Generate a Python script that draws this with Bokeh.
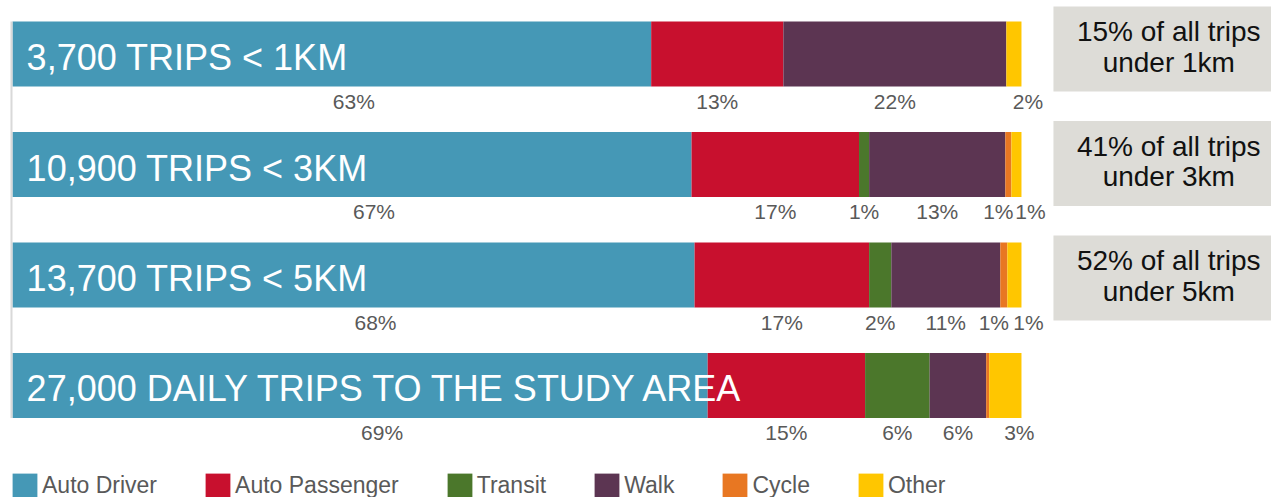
from bokeh.plotting import figure
from bokeh.models import ColumnDataSource, Range1d
from bokeh.embed import file_html
from bokeh.resources import INLINE
from bokeh.core.properties import value

# ---------------- data ----------------
trip_labels = ["3,700 TRIPS < 1KM", "10,900 TRIPS < 3KM", "13,700 TRIPS < 5KM",
               "27,000 DAILY TRIPS TO THE STUDY AREA"]
modes = ["Auto Driver", "Auto Passenger", "Transit", "Walk", "Cycle", "Other"]

auto_driver = [63.3, 67.3, 67.6, 68.9]
auto_passenger = [13.1, 16.6, 17.3, 15.6]
transit = [0.0, 1.0, 2.2, 6.4]
walk = [22.1, 13.5, 10.8, 5.6]
cycle = [0.0, 0.6, 0.7, 0.3]
other = [1.5, 1.0, 1.4, 3.2]

driver_lbl = ["63%", "67%", "68%", "69%"]
passenger_lbl = ["13%", "17%", "17%", "15%"]
transit_lbl = ["", "1%", "2%", "6%"]
walk_lbl = ["22%", "13%", "11%", "6%"]
cycle_lbl = ["", "1%", "1%", ""]
other_lbl = ["2%", "1%", "1%", "3%"]

share_line1 = ["15% of all trips", "41% of all trips", "52% of all trips"]
share_line2 = ["under 1km", "under 3km", "under 5km"]

# ---------------- styles / layout ----------------
colors = ["#4598b6", "#c8102e", "#4b772b", "#5c3552", "#e87722", "#ffc600"]
label_shift = [22, 0, 0, 0, -10, 14]   # px nudges for the value labels
FONT = "Liberation Sans"
BAR_H = 0.588
BOX_Y0, BOX_STEP, BOX_H = 0.045, 1.036, 0.77

series = [auto_driver, auto_passenger, transit, walk, cycle, other]
labels = [driver_lbl, passenger_lbl, transit_lbl, walk_lbl, cycle_lbl, other_lbl]
ypos = [-i for i in range(len(trip_labels))]

data = {"y": ypos}
for m, s in zip(modes, series):
    data[m] = s
source = ColumnDataSource(data)

p = figure(width=1271, height=497, output_backend="svg", toolbar_location=None,
           x_range=Range1d(-1.189, 124.78), y_range=Range1d(-4.014, 0.484),
           x_axis_location=None, y_axis_location=None, min_border=0,
           background_fill_color="white", border_fill_color="white")
p.grid.visible = False
p.outline_line_color = None

p.hbar_stack(modes, y="y", height=BAR_H, color=colors, source=source,
             line_color=None, legend_label=modes)

# category axis line
p.segment(x0=-0.1, y0=ypos[0] + BAR_H / 2, x1=-0.1, y1=ypos[-1] - BAR_H / 2,
          line_color="#d9d9d9", line_width=2)

# bar titles
p.text(x=[1.4] * len(ypos), y=[y - 0.032 for y in ypos], text=trip_labels,
       text_color="white", text_font=value(FONT), text_font_size="36px",
       text_align="left", text_baseline="alphabetic")

# value labels under each segment
starts = [0.0] * len(ypos)
for s, lbl, shift in zip(series, labels, label_shift):
    xs, ys, ts = [], [], []
    for i, v in enumerate(s):
        if lbl[i]:
            xs.append(starts[i] + v / 2)
            ys.append(ypos[i] - 0.429)
            ts.append(lbl[i])
        starts[i] += v
    p.text(x=xs, y=ys, text=ts, x_offset=shift, text_color="#595959",
           text_font=value(FONT), text_font_size="21px",
           text_align="center", text_baseline="alphabetic")

# grey share boxes
nb = len(share_line1)
by = [BOX_Y0 - i * BOX_STEP for i in range(nb)]
p.quad(left=[103.17] * nb, right=[126.0] * nb,
       top=[y + BOX_H / 2 for y in by], bottom=[y - BOX_H / 2 for y in by],
       fill_color="#dddcd7", line_color=None)
p.text(x=[114.6] * nb, y=[y + 0.158 for y in by], text=share_line1,
       text_color="#111111", text_font=value(FONT), text_font_size="28px",
       text_align="center", text_baseline="alphabetic")
p.text(x=[114.6] * nb, y=[y - 0.121 for y in by], text=share_line2,
       text_color="#111111", text_font=value(FONT), text_font_size="28px",
       text_align="center", text_baseline="alphabetic")

# legend
lg = p.legend[0]
lg.orientation = "horizontal"
lg.location = (9, -4)
lg.margin = 0
lg.padding = 0
lg.spacing = 45
lg.border_line_color = None
lg.background_fill_alpha = 0
lg.glyph_width = 31
lg.glyph_height = 31
lg.label_standoff = 2
lg.label_height = 31
lg.label_text_font = FONT
lg.label_text_font_size = "23px"
lg.label_text_color = "#595959"
lg.label_text_baseline = "middle"

open("out.html", "w").write(file_html(p, INLINE))
